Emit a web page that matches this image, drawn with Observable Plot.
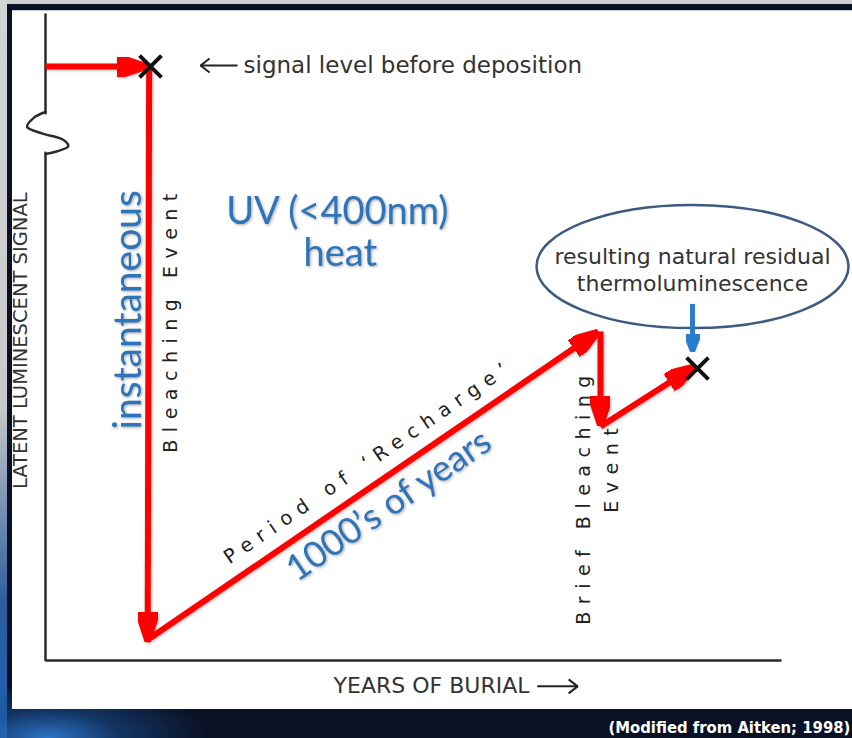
<!DOCTYPE html>
<html><head><meta charset="utf-8">
<script src="https://cdn.jsdelivr.net/npm/d3@7"></script>
<script src="https://cdn.jsdelivr.net/npm/@observablehq/plot@0.6"></script>
<style>
html,body{margin:0;padding:0;}
body{width:852px;height:738px;position:relative;overflow:hidden;background:#0a1124;}
#topstrip{position:absolute;left:0;top:0;width:852px;height:4px;background:#cfcfcf;}
#leftstrip{position:absolute;left:0;top:0;width:7px;height:738px;background:linear-gradient(#d4d4d4 0%,#c9c9c9 55%,#2b5c9c 82%,#1d64b8 100%);}
#glow{position:absolute;left:0;top:690px;width:320px;height:48px;background:radial-gradient(ellipse 160px 60px at 15% 100%,#2d74c6 0%,rgba(25,80,150,0.55) 45%,rgba(10,17,36,0) 100%);}
#panel{position:absolute;left:12px;top:10px;width:840px;height:698px;background:#fff;border-top:1px solid #c3c8d2;}
#chart{position:absolute;left:0;top:0;}
g[aria-description="spaced"] text{letter-spacing:7.5px;}
g[aria-description="blue"]{filter:drop-shadow(1px 1px 1.5px rgba(0,0,0,0.35));}
g[aria-description="red"]{filter:drop-shadow(1.5px 1.5px 1.5px rgba(0,0,0,0.3));}
</style>
</head><body>
<div id="topstrip"></div><div id="leftstrip"></div><div id="glow"></div><div id="panel"></div>
<div id="chart"></div>
<script>
// ---- data (x = years of burial, y = latent luminescent signal; arbitrary units 0-100) ----
const axisLines = [
  {part:"y-top", x:0, y:100}, {part:"y-top", x:0, y:84.7},
  {part:"frame", x:0, y:78.6}, {part:"frame", x:0, y:0}, {part:"frame", x:100, y:0}
];
const axisBreak = [
  {x:0, y:84.9}, {x:-1.6, y:84.0}, {x:-2.5, y:82.6}, {x:-0.5, y:81.6},
  {x:2.4, y:80.6}, {x:3.1, y:79.6}, {x:1.5, y:78.8}, {x:0, y:78.4}
];
const signalSteps = [
  {step:"before deposition", x1:0,     y1:91.95, x2:12.65, y2:91.95},
  {step:"bleaching",         x1:14.1,  y1:91.95, x2:13.9,  y2:4.3},
  {step:"recharge",          x1:13.74, y1:3.10,  x2:74.23, y2:50.14},
  {step:"brief bleaching",   x1:75.51, y1:50.93, x2:75.51, y2:37.62},
  {step:"recharge 2",        x1:75.51, y1:36.22, x2:87.27, y2:44.77}
];
const crosses = [{x:14.29, y:91.95}, {x:88.71, y:45.2}];
const residualPointer = [{x1:88.03, y1:55.2, x2:88.03, y2:48.6}];
const callout = [{x:88.03, y:60.99}];
const calloutText = [{text:"resulting natural residual\nthermoluminescence", x:88.03, y:60.6}];
const pointerArrows = [
  {x1:26.12, y1:92.1, x2:21.1, y2:92.1},
  {x1:66.9, y1:-4.0, x2:72.4, y2:-4.0}
];
const startLabels = [{text:"signal level before deposition", x:26.94, y:92.1}];
const axisTitleV = [{text:"LATENT LUMINESCENT SIGNAL", x:-3.4, y:49.5}];
const axisTitleH = [{text:"YEARS OF BURIAL", x:39.2, y:-4.0}];
const blueVertical = [{text:"instantaneous", x:11.3, y:54.3}];
const blueHorizontal = [{text:"UV (<400nm)", x:39.7, y:69.4}, {text:"heat", x:40.1, y:62.9}];
const blueSlanted = [{text:"1000’s of years", x:46.7, y:24.0}];
const spacedVertical = [
  {text:"Bleaching Event", x:17.0, y:52.8},
  {text:"Brief Bleaching", x:73.2, y:25.4},
  {text:"Event", x:77.1, y:30.0}
];
const spacedSlanted = [{text:"Period of ‘Recharge’", x:44.0, y:30.8}];
const source = [{text:"(Modified from Aitken; 1998)", x:109.5, y:-10.4}];

// ---- helpers ----
function solidHead(len, wid, over) {
  return (color) => {
    const m = d3.create("svg:marker")
      .attr("viewBox", `${over - len} ${-wid / 2} ${len} ${wid}`)
      .attr("markerWidth", len).attr("markerHeight", wid)
      .attr("markerUnits", "userSpaceOnUse")
      .attr("refX", 0).attr("refY", 0).attr("orient", "auto");
    m.append("path").attr("d", `M${over - len},${-wid / 2}L${over},0L${over - len},${wid / 2}Z`).attr("fill", color);
    return m.node();
  };
}
function openHead(len, wid) {
  return (color) => {
    const m = d3.create("svg:marker")
      .attr("viewBox", `${-len - 2} ${-wid / 2 - 2} ${len + 4} ${wid + 4}`)
      .attr("markerWidth", len + 4).attr("markerHeight", wid + 4)
      .attr("markerUnits", "userSpaceOnUse")
      .attr("refX", 0).attr("refY", 0).attr("orient", "auto");
    m.append("path").attr("d", `M${-len},${-wid / 2}L0,0L${-len},${wid / 2}`)
      .attr("fill", "none").attr("stroke", color).attr("stroke-width", 2);
    return m.node();
  };
}
const ellipseSymbol = {
  draw(ctx, size) {
    const rx = Math.sqrt(size / Math.PI), ry = rx * 0.395, k = 0.5523;
    ctx.moveTo(rx, 0);
    ctx.bezierCurveTo(rx, ry * k, rx * k, ry, 0, ry);
    ctx.bezierCurveTo(-rx * k, ry, -rx, ry * k, -rx, 0);
    ctx.bezierCurveTo(-rx, -ry * k, -rx * k, -ry, 0, -ry);
    ctx.bezierCurveTo(rx * k, -ry, rx, -ry * k, rx, 0);
    ctx.closePath();
  }
};

const ink = "#333";
const blue = "#2e74b8";
const sans = "'DejaVu Sans', sans-serif";
const blueFont = "Lato, 'Open Sans', sans-serif";

const chart = Plot.plot({
  width: 852, height: 738,
  marginLeft: 45, marginRight: 72, marginTop: 14, marginBottom: 78,
  style: {background: "transparent", overflow: "visible"},
  x: {domain: [0, 100], axis: null},
  y: {domain: [0, 100], axis: null},
  marks: [
    Plot.line(axisLines, {x: "x", y: "y", z: "part", stroke: "#2b2b2b", strokeWidth: 2.5, strokeLinejoin: "miter"}),
    Plot.line(axisBreak, {x: "x", y: "y", curve: "catmull-rom", stroke: "#2b2b2b", strokeWidth: 2.5}),
    Plot.dot(callout, {x: "x", y: "y", r: 156, symbol: ellipseSymbol, stroke: "#3d5a80", strokeWidth: 2.5, fill: "none"}),
    Plot.link(signalSteps, {x1: "x1", y1: "y1", x2: "x2", y2: "y2", stroke: "#ff0000", strokeWidth: 6, markerEnd: solidHead(30, 20, 9), ariaDescription: "red"}),
    Plot.link(residualPointer, {x1: "x1", y1: "y1", x2: "x2", y2: "y2", stroke: "#2a7ccc", strokeWidth: 5, markerEnd: solidHead(18, 14, 5)}),
    Plot.dot(crosses, {x: "x", y: "y", symbol: "times", r: 10, stroke: "#111", strokeWidth: 4}),
    Plot.link(pointerArrows, {x1: "x1", y1: "y1", x2: "x2", y2: "y2", stroke: "#222", strokeWidth: 2, markerEnd: openHead(9, 14)}),
    Plot.text(startLabels, {x: "x", y: "y", text: "text", textAnchor: "start", fontSize: 23, fontFamily: sans, fill: ink}),
    Plot.text(axisTitleV, {x: "x", y: "y", text: "text", rotate: -90, fontSize: 19.5, fontFamily: sans, fill: ink}),
    Plot.text(axisTitleH, {x: "x", y: "y", text: "text", textAnchor: "start", fontSize: 22, fontFamily: sans, fill: ink}),
    Plot.text(calloutText, {x: "x", y: "y", text: "text", fontSize: 22, lineHeight: 1.2, fontFamily: sans, fill: ink}),
    Plot.text(blueVertical, {x: "x", y: "y", text: "text", rotate: -90, fontSize: 39, fontFamily: blueFont, fill: blue, ariaDescription: "blue"}),
    Plot.text(blueHorizontal, {x: "x", y: "y", text: "text", fontSize: 38, fontFamily: blueFont, fill: blue, ariaDescription: "blue"}),
    Plot.text(blueSlanted, {x: "x", y: "y", text: "text", rotate: -34.4, fontSize: 36, fontFamily: blueFont, fill: blue, ariaDescription: "blue"}),
    Plot.text(spacedVertical, {x: "x", y: "y", text: "text", rotate: -90, fontSize: 19, fontFamily: sans, fill: "#222", ariaDescription: "spaced"}),
    Plot.text(spacedSlanted, {x: "x", y: "y", text: "text", rotate: -34.4, fontSize: 19.5, fontFamily: sans, fill: "#222", ariaDescription: "spaced"}),
    Plot.text(source, {x: "x", y: "y", text: "text", textAnchor: "end", fontSize: 16.5, fontWeight: "bold", fontFamily: "'Liberation Sans Narrow', 'DejaVu Sans Condensed', sans-serif", fill: "#fff"})
  ]
});
document.getElementById("chart").appendChild(chart);
</script>
</body></html>
